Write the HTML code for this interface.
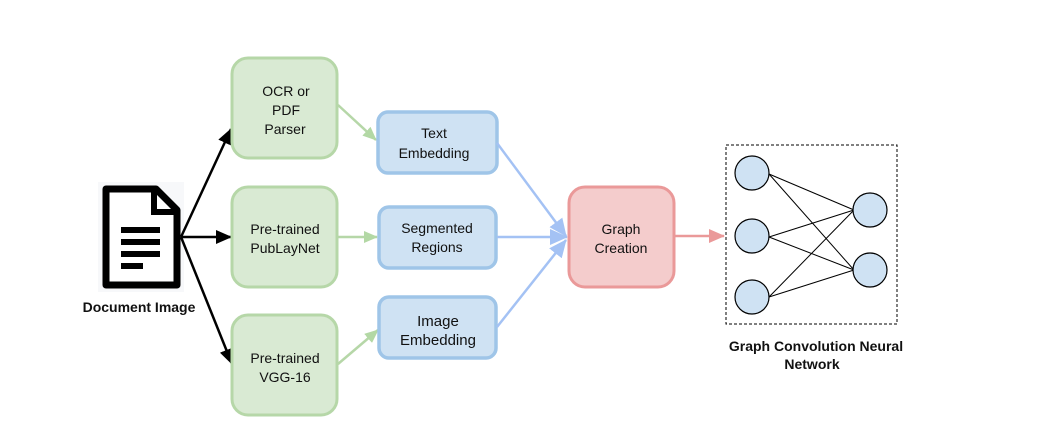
<!DOCTYPE html>
<html><head><meta charset="utf-8"><style>
html,body{margin:0;padding:0;background:#fff}
svg{display:block}
text{font-family:"Liberation Sans",sans-serif;font-size:14px;fill:#111;text-anchor:middle}
.b{font-weight:bold;font-size:14px}
</style></head><body>
<svg width="1057" height="441" viewBox="0 0 1057 441" xmlns="http://www.w3.org/2000/svg">
<defs>
<marker id="ak" markerWidth="16" markerHeight="14" refX="15" refY="7" orient="auto" markerUnits="userSpaceOnUse"><path d="M0,0 L16,7 L0,14 z" fill="#000"/></marker>
<marker id="ag" markerWidth="14" markerHeight="12" refX="13" refY="6" orient="auto" markerUnits="userSpaceOnUse"><path d="M0,0 L14,6 L0,12 z" fill="#b3d8a5"/></marker>
<marker id="ab" markerWidth="18" markerHeight="16" refX="17" refY="8" orient="auto" markerUnits="userSpaceOnUse"><path d="M0,0 L18,8 L0,16 z" fill="#a4c2f4"/></marker>
<marker id="ar" markerWidth="16" markerHeight="14" refX="15" refY="7" orient="auto" markerUnits="userSpaceOnUse"><path d="M0,0 L16,7 L0,14 z" fill="#ea9999"/></marker>
</defs>

<rect x="98" y="182" width="86" height="110" fill="#f7f8fa"/>
<path d="M106,189 L156,189 L177,210 L177,285 L106,285 Z" fill="#fff" stroke="#000" stroke-width="7" stroke-linejoin="round"/>
<path d="M154,189 L154,212 L177,212" fill="none" stroke="#000" stroke-width="6"/>
<rect x="121" y="227" width="39" height="6" fill="#000"/>
<rect x="121" y="239" width="39" height="6" fill="#000"/>
<rect x="121" y="251" width="39" height="6" fill="#000"/>
<rect x="121" y="263" width="22" height="6" fill="#000"/>
<text x="139" y="312" class="b">Document Image</text>

<g stroke="#000" stroke-width="2.5" fill="none">
<line x1="181" y1="237" x2="231" y2="129" marker-end="url(#ak)"/>
<line x1="181" y1="237" x2="231" y2="237" marker-end="url(#ak)"/>
<line x1="181" y1="237" x2="232" y2="364" marker-end="url(#ak)"/>
</g>

<g fill="#d9ead3" stroke="#b6d7a8" stroke-width="3">
<rect x="232" y="58" width="105" height="100" rx="16"/>
<rect x="232" y="187" width="105" height="100" rx="16"/>
<rect x="232" y="315" width="105" height="100" rx="16"/>
</g>
<text x="286" y="96">OCR or</text>
<text x="286" y="115">PDF</text>
<text x="285" y="134">Parser</text>
<text x="285" y="234">Pre-trained</text>
<text x="285" y="253">PubLayNet</text>
<text x="285" y="363">Pre-trained</text>
<text x="285" y="382">VGG-16</text>

<g stroke="#b6d7a8" stroke-width="2.5" fill="none">
<line x1="338" y1="105" x2="376" y2="140" marker-end="url(#ag)"/>
<line x1="338" y1="237" x2="377" y2="237" marker-end="url(#ag)"/>
<line x1="338" y1="364" x2="378" y2="330" marker-end="url(#ag)"/>
</g>

<g fill="#cfe2f3" stroke="#9fc5e8" stroke-width="3.5">
<rect x="378" y="112" width="119" height="61" rx="10"/>
<rect x="379" y="207" width="117" height="61" rx="10"/>
<rect x="379" y="297" width="117" height="61" rx="10"/>
</g>
<text x="434" y="138">Text</text>
<text x="434" y="158">Embedding</text>
<text x="437" y="233">Segmented</text>
<text x="437" y="252">Regions</text>
<text x="438" y="326" style="font-size:15px">Image</text>
<text x="438" y="345" style="font-size:15px">Embedding</text>

<g stroke="#a4c2f4" stroke-width="2.5" fill="none">
<line x1="497" y1="143" x2="566" y2="236" marker-end="url(#ab)"/>
<line x1="497" y1="237" x2="567" y2="237" marker-end="url(#ab)"/>
<line x1="497" y1="327" x2="566" y2="240" marker-end="url(#ab)"/>
</g>

<rect x="569" y="187" width="105" height="100" rx="16" fill="#f4cccc" stroke="#ea9999" stroke-width="3"/>
<text x="621" y="234">Graph</text>
<text x="621" y="253">Creation</text>
<line x1="675" y1="236" x2="724" y2="236" stroke="#ea9999" stroke-width="2.5" marker-end="url(#ar)"/>

<rect x="726" y="145" width="171" height="179" fill="none" stroke="#000" stroke-width="1" stroke-dasharray="3,2"/>
<g stroke="#000" stroke-width="1">
<line x1="769" y1="174" x2="854" y2="210"/>
<line x1="769" y1="174" x2="854" y2="270"/>
<line x1="769" y1="237" x2="854" y2="210"/>
<line x1="769" y1="237" x2="854" y2="270"/>
<line x1="769" y1="297" x2="854" y2="210"/>
<line x1="769" y1="297" x2="854" y2="270"/>
</g>
<g fill="#cfe2f3" stroke="#000" stroke-width="1.2">
<ellipse cx="752" cy="173" rx="17" ry="17"/>
<ellipse cx="752" cy="236" rx="17" ry="17"/>
<ellipse cx="752" cy="297" rx="17" ry="17"/>
<ellipse cx="870" cy="210" rx="17" ry="17"/>
<ellipse cx="870" cy="270" rx="17" ry="17"/>
</g>
<text x="816" y="351" class="b">Graph Convolution Neural</text>
<text x="812" y="369" class="b">Network</text>
</svg>
</body></html>
